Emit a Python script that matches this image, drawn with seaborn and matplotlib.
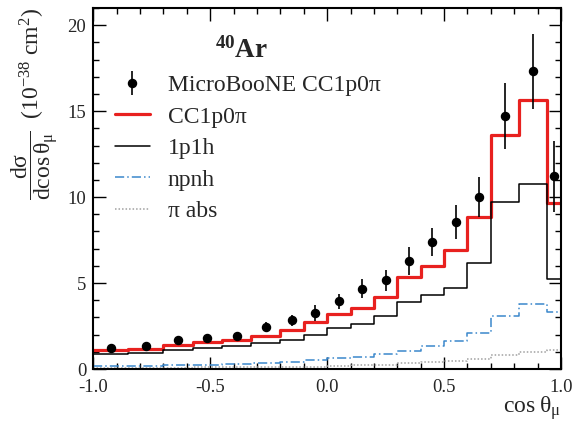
import numpy as np
import pandas as pd
import matplotlib
matplotlib.use("Agg")
import matplotlib.pyplot as plt
import seaborn as sns
from matplotlib.ticker import MultipleLocator

# Bin edges in cos(theta_mu)
edges = [-1.0, -0.85, -0.7, -0.575, -0.45, -0.325, -0.2, -0.1, 0.0,
         0.1, 0.2, 0.3, 0.4, 0.5, 0.6, 0.7, 0.82, 0.94, 1.0]

# Measured cross section and uncertainties (10^-38 cm^2)
data_xsec = [1.21, 1.34, 1.67, 1.81, 1.94, 2.43, 2.84, 3.25, 3.93,
             4.67, 5.15, 6.26, 7.37, 8.56, 10.02, 14.70, 17.31, 11.22]
data_err = [0.15, 0.15, 0.18, 0.20, 0.22, 0.28, 0.33, 0.45, 0.45,
            0.56, 0.63, 0.81, 0.81, 0.98, 1.15, 1.92, 2.19, 2.06]

# Model predictions per bin
cc1p0pi = [1.11, 1.18, 1.38, 1.58, 1.69, 1.93, 2.28, 2.72, 3.21,
           3.52, 4.20, 5.35, 6.01, 6.90, 8.83, 13.61, 15.62, 9.63]
one_p_one_h = [0.86, 0.93, 1.11, 1.24, 1.34, 1.50, 1.69, 2.00, 2.37,
               2.60, 3.11, 3.89, 4.28, 4.74, 6.17, 9.70, 10.78, 5.23]
npnh = [0.18, 0.20, 0.23, 0.26, 0.30, 0.36, 0.42, 0.52, 0.62,
        0.72, 0.86, 1.02, 1.36, 1.65, 2.08, 3.09, 3.81, 3.31]
pi_abs = [0.06, 0.07, 0.08, 0.09, 0.10, 0.11, 0.12, 0.14, 0.17,
          0.21, 0.26, 0.33, 0.40, 0.46, 0.56, 0.82, 1.00, 1.08]

edges_arr = np.array(edges)
centers = 0.5 * (edges_arr[:-1] + edges_arr[1:])

sns.set_theme(style="ticks")
plt.rcParams["font.family"] = ["Liberation Serif", "DejaVu Serif"]
plt.rcParams["mathtext.fontset"] = "custom"
plt.rcParams["mathtext.rm"] = "Liberation Serif"
plt.rcParams["mathtext.it"] = "Liberation Serif:italic"
plt.rcParams["mathtext.bf"] = "Liberation Serif:bold"

fig = plt.figure(figsize=(5.75, 4.24), dpi=100)
ax = fig.add_axes([93.3 / 575, 1 - 369 / 424, (561 - 93.3) / 575, (369 - 8) / 424])

models = pd.DataFrame({
    "x": np.tile(centers, 4),
    "y": cc1p0pi + one_p_one_h + npnh + pi_abs,
    "model": np.repeat(["CC1p0π", "1p1h", "npnh", "π abs"], len(centers)),
})

styles = {
    "CC1p0π": dict(color="#e8211f", linewidth=2.3, linestyle="-"),
    "1p1h": dict(color="black", linewidth=1.1, linestyle="-"),
    "npnh": dict(color="#3b88cc", linewidth=1.1, linestyle=(0, (6, 2, 1, 2))),
    "π abs": dict(color="#a0a0a0", linewidth=1.1, linestyle=(0, (1, 1.3))),
}

# Data points with error bars
ax.errorbar(centers, data_xsec, yerr=data_err, fmt="o", color="black",
            markersize=5.8, elinewidth=1.2, capsize=0,
            label="MicroBooNE CC1p0π", zorder=5)

for name, st in styles.items():
    sub = models[models["model"] == name]
    sns.histplot(data=sub, x="x", weights="y", bins=edges, element="step",
                 fill=False, ax=ax, label=name, **st)

ax.set_xlim(-1.0, 1.0)
ax.set_ylim(0, 21)
ax.xaxis.set_major_locator(MultipleLocator(0.5))
ax.xaxis.set_minor_locator(MultipleLocator(0.1))
ax.yaxis.set_major_locator(MultipleLocator(5))
ax.yaxis.set_minor_locator(MultipleLocator(1))
ax.set_xticks([-1.0, -0.5, 0.0, 0.5, 1.0])
ax.set_xticklabels(["-1.0", "-0.5", "0.0", "0.5", "1.0"])
ax.tick_params(which="both", direction="in", top=True, right=True,
               labelsize=13.5, width=1.0, color="black")
ax.tick_params(which="major", length=9)
ax.tick_params(which="minor", length=4.5)
ax.tick_params(axis="x", pad=7)
ax.tick_params(axis="y", pad=5)
for s in ax.spines.values():
    s.set_linewidth(1.5)
    s.set_color("black")

ax.set_xlabel(r"$\mathrm{cos\;θ_{μ}}$", fontsize=17, loc="right", labelpad=-1)
ax.set_ylabel(r"$\mathrm{\dfrac{dσ}{dcos\,θ_{μ}}\ \ (10^{-38}\ cm^{2})}$",
              fontsize=17, loc="top", labelpad=5)

ax.text(0.26, 0.862, r"$\mathbf{^{40}Ar}$", transform=ax.transAxes,
        fontsize=19.5, ha="left", va="baseline")

handles, labels = ax.get_legend_handles_labels()
order = ["MicroBooNE CC1p0π", "CC1p0π", "1p1h", "npnh", "π abs"]
hmap = dict(zip(labels, handles))
ax.legend([hmap[k] for k in order], order, loc="upper left",
          bbox_to_anchor=(0.046, 0.815), frameon=False, fontsize=17,
          handlelength=1.48, handletextpad=0.76, labelspacing=0.42,
          borderpad=0, borderaxespad=0)

sns.despine(ax=ax, top=False, right=False)
fig.savefig("out.png", dpi=100)
